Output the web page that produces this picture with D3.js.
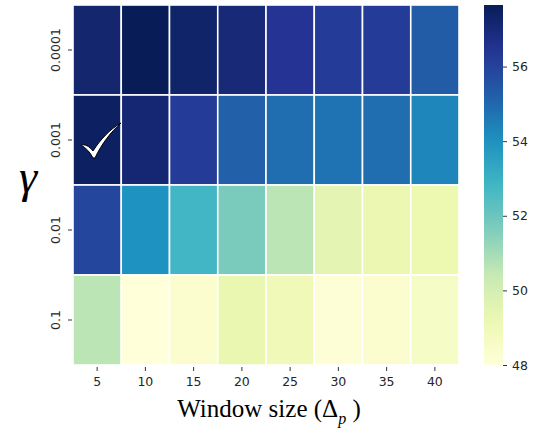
<!DOCTYPE html>
<html><head><meta charset="utf-8">
<script src="https://cdn.jsdelivr.net/npm/d3@7"></script>
<style>body{margin:0;background:#fff}svg{display:block}</style>
</head><body>
<svg id="c" width="542" height="431"></svg>
<script>
const windowSizes = ["5","10","15","20","25","30","35","40"];
const gammas = ["0.0001","0.001","0.01","0.1"];
const row_0_0001 = [57.2, 57.65, 57.3, 57.0, 56.45, 56.2, 56.2, 55.3];
const row_0_001  = [57.45, 57.1, 56.2, 55.2, 54.85, 54.75, 54.85, 54.3];
const row_0_01   = [55.9, 54.0, 52.8, 51.7, 50.6, 49.5, 49.25, 49.2];
const row_0_1    = [50.6, 48.0, 48.3, 49.3, 49.0, 48.1, 48.3, 48.6];
const rows = [row_0_0001, row_0_001, row_0_01, row_0_1];
const cbarTicks = [48, 50, 52, 54, 56];
const bestCell = {gamma: "0.001", win: "5"};

const ylgnbu = ["#ffffd9","#edf8b1","#c7e9b4","#7fcdbb","#41b6c4","#1d91c0","#225ea8","#253494","#081d58"];
const all = rows.flat();
const vmin = d3.min(all), vmax = d3.max(all);
const color = d3.scaleLinear()
  .domain(ylgnbu.map((_, i) => vmin + (vmax - vmin) * i / (ylgnbu.length - 1)))
  .range(ylgnbu).interpolate(d3.interpolateRgb);

const svg = d3.select("#c");
const L = 73, R = 459, T = 5, B = 365;
const x = d3.scaleBand().domain(windowSizes).range([L, R]);
const y = d3.scaleBand().domain(gammas).range([T, B]);

const cells = [];
gammas.forEach((g, i) => windowSizes.forEach((w, j) => cells.push({g, w, v: rows[i][j]})));
svg.append("g").selectAll("rect").data(cells).join("rect")
  .attr("x", d => x(d.w)).attr("y", d => y(d.g))
  .attr("width", x.bandwidth()).attr("height", y.bandwidth())
  .attr("fill", d => color(d.v))
  .attr("stroke", "#fff").attr("stroke-width", 1.6);

const tickFont = "'DejaVu Sans', sans-serif";
const xAxis = svg.append("g").attr("transform", `translate(0,${B})`)
  .call(d3.axisBottom(x).tickSize(4).tickPadding(6));
const yAxis = svg.append("g").attr("transform", `translate(${L},0)`)
  .call(d3.axisLeft(y).tickSize(4).tickPadding(5));
[xAxis, yAxis].forEach(a => {
  a.select(".domain").remove();
  a.selectAll("line").attr("stroke", "#333").attr("stroke-width", 1).attr("transform", a === xAxis ? "translate(0,2)" : "translate(-1,0)");
  a.selectAll("text").attr("font-family", tickFont).attr("font-size", 12.5).attr("fill", "#262626");
});
xAxis.selectAll("text").attr("dy", "0.9em").attr("y", 10);
yAxis.selectAll("text")
  .attr("transform", "translate(-17,0) rotate(-90)")
  .attr("x", 0).attr("y", 0).attr("dy", "0.35em").attr("text-anchor", "middle");

// Colorbar
const cbL = 484, cbW = 19;
const cy = d3.scaleLinear().domain([vmin, vmax]).range([B, T]);
const defs = svg.append("defs");
const grad = defs.append("linearGradient").attr("id", "cbg").attr("x1", 0).attr("x2", 0).attr("y1", 1).attr("y2", 0);
d3.range(0, 1.0001, 0.05).forEach(t => grad.append("stop").attr("offset", t).attr("stop-color", color(vmin + t * (vmax - vmin))));
svg.append("rect").attr("x", cbL).attr("y", T).attr("width", cbW).attr("height", B - T).attr("fill", "url(#cbg)");
const cAxis = svg.append("g").attr("transform", `translate(${cbL + cbW},0)`)
  .call(d3.axisRight(cy).tickValues(cbarTicks).tickSize(4).tickPadding(5));
cAxis.select(".domain").remove();
cAxis.selectAll("line").attr("stroke", "#333");
cAxis.selectAll("text").attr("font-family", tickFont).attr("font-size", 12.5).attr("fill", "#262626");

// Axis titles
const title = svg.append("text").attr("x", (L + R) / 2 + 3).attr("y", 417)
  .attr("text-anchor", "middle").attr("font-family", "'Liberation Serif', 'Times New Roman', serif")
  .attr("font-size", 25).attr("fill", "#000");
title.append("tspan").text("Window size (Δ");
title.append("tspan").text("p").attr("font-style", "italic").attr("font-size", 16).attr("dy", 7);
title.append("tspan").text(" )").attr("dy", -7);

svg.append("text").attr("x", 28).attr("y", 192).attr("text-anchor", "middle")
  .attr("font-family", "'Liberation Serif', serif").attr("font-style", "italic")
  .attr("font-size", 46).attr("fill", "#000").text("γ");

// Check mark on best cell
const cx0 = x(bestCell.win), cy0 = y(bestCell.gamma);
svg.append("path")
  .attr("transform", `translate(${cx0},${cy0})`)
  .attr("d", "M8,50 C12,49 16,51 20,56 C27,45 37,34 48,28 C38,37 29,48 22,63 L20,63 C17,57 13,53 8,50 Z")
  .attr("fill", "#fff").attr("stroke", "#000").attr("stroke-width", 1).attr("stroke-linejoin", "round");
</script>
</body></html>
